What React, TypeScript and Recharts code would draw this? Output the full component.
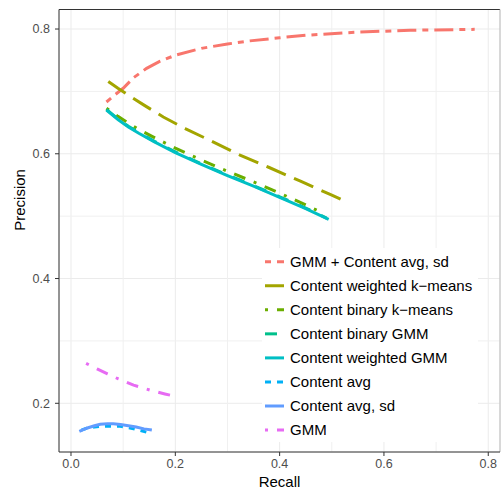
import React from "react";
import {
  LineChart,
  Line,
  XAxis,
  YAxis,
  CartesianGrid,
  ReferenceLine,
} from "recharts";

// ---- data (recall / precision) ----
const gmmContentRecall = [0.068, 0.085, 0.1, 0.12, 0.145, 0.17, 0.2, 0.25, 0.3, 0.343, 0.4, 0.45, 0.547, 0.65, 0.774];
const gmmContentPrecision = [0.683, 0.695, 0.705, 0.722, 0.737, 0.748, 0.758, 0.769, 0.776, 0.781, 0.786, 0.79, 0.795, 0.798, 0.7995];

const weightedKmRecall = [0.0715, 0.09, 0.11, 0.14, 0.177, 0.22, 0.27, 0.324, 0.38, 0.44, 0.499, 0.52];
const weightedKmPrecision = [0.716, 0.705, 0.694, 0.678, 0.659, 0.64, 0.62, 0.598, 0.578, 0.556, 0.534, 0.526];

const binaryKmRecall = [0.068, 0.09, 0.11, 0.13, 0.16, 0.2, 0.25, 0.3, 0.35, 0.4, 0.45, 0.483];
const binaryKmPrecision = [0.673, 0.66, 0.649, 0.639, 0.626, 0.609, 0.59, 0.572, 0.555, 0.537, 0.518, 0.505];

const binaryGmmRecall = [0.068, 0.09, 0.11, 0.13, 0.16, 0.2, 0.25, 0.3, 0.35, 0.4, 0.45, 0.49];
const binaryGmmPrecision = [0.671, 0.656, 0.644, 0.634, 0.62, 0.603, 0.584, 0.566, 0.549, 0.531, 0.513, 0.497];

const weightedGmmRecall = [0.068, 0.09, 0.11, 0.13, 0.16, 0.2, 0.25, 0.3, 0.35, 0.4, 0.45, 0.494];
const weightedGmmPrecision = [0.67, 0.655, 0.643, 0.633, 0.619, 0.602, 0.583, 0.565, 0.548, 0.53, 0.512, 0.495];

const contentAvgRecall = [0.02, 0.03, 0.045, 0.056, 0.075, 0.094, 0.11, 0.13, 0.148];
const contentAvgPrecision = [0.157, 0.16, 0.162, 0.163, 0.163, 0.163, 0.161, 0.157, 0.153];

const contentAvgSdRecall = [0.016, 0.03, 0.045, 0.056, 0.07, 0.081, 0.095, 0.11, 0.125, 0.14, 0.155];
const contentAvgSdPrecision = [0.155, 0.16, 0.164, 0.1665, 0.167, 0.167, 0.166, 0.164, 0.162, 0.159, 0.157];

const gmmRecall = [0.029, 0.05, 0.07, 0.091, 0.12, 0.156, 0.18, 0.201];
const gmmPrecision = [0.264, 0.255, 0.247, 0.239, 0.229, 0.22, 0.215, 0.211];

const seriesNames = [
  "GMM + Content avg, sd",
  "Content weighted k\u2212means",
  "Content binary k\u2212means",
  "Content binary GMM",
  "Content weighted GMM",
  "Content avg",
  "Content avg, sd",
  "GMM",
];
const seriesColors = ["#F8766D", "#A3A500", "#6BAE00", "#00C08B", "#00BFC4", "#00B0F6", "#619CFF", "#E76BF3"];
const seriesDashes = ["6 6 19 6", "21 9", "3 9 12 9", "12 12", undefined, "6 6", undefined, "3 9 12 9"];

const xMajorTicks = [0, 0.2, 0.4, 0.6, 0.8];
const yMajorTicks = [0.2, 0.4, 0.6, 0.8];
const xMinorTicks = [0.1, 0.3, 0.5, 0.7];
const yMinorTicks = [0.3, 0.5, 0.7];

const X_DOMAIN: [number, number] = [-0.023, 0.8225];
const Y_DOMAIN: [number, number] = [0.1219, 0.8313];

const zip = (xs: number[], ys: number[]) => xs.map((x, i) => ({ x, y: ys[i] }));

const seriesData = [
  zip(gmmContentRecall, gmmContentPrecision),
  zip(weightedKmRecall, weightedKmPrecision),
  zip(binaryKmRecall, binaryKmPrecision),
  zip(binaryGmmRecall, binaryGmmPrecision),
  zip(weightedGmmRecall, weightedGmmPrecision),
  zip(contentAvgRecall, contentAvgPrecision),
  zip(contentAvgSdRecall, contentAvgSdPrecision),
  zip(gmmRecall, gmmPrecision),
];

const FONT = "'Liberation Sans', Arial, Helvetica, sans-serif";

// legend drawn as an overlay inside the panel (like ggplot legend.position = c(x, y))
function LegendBox() {
  return (
    <svg
      width={216}
      height={194}
      style={{ position: "absolute", left: 262, top: 248, display: "block", background: "#ffffff" }}
    >
      {seriesNames.map((name, i) => {
        const cy = 13.7 + i * 24.05;
        return (
          <g key={name}>
            <line
              x1={3}
              x2={22}
              y1={cy}
              y2={cy}
              stroke={seriesColors[i]}
              strokeWidth={3}
              strokeDasharray={seriesDashes[i]}
            />
            <text x={28} y={cy + 5.3} fontSize={15} fontFamily={FONT} fill="#000000">
              {name}
            </text>
          </g>
        );
      })}
    </svg>
  );
}

export default function App() {
  return (
    <div style={{ position: "absolute", left: 0, top: 0, width: 502, height: 488, background: "#ffffff" }}>
      <LineChart width={502} height={488} margin={{ top: 9.5, right: 2, bottom: 0, left: 0 }}>
        <CartesianGrid stroke="#EBEBEB" strokeWidth={1} />
        {xMinorTicks.map((v) => (
          <ReferenceLine key={"xm" + v} x={v} stroke="#F0F0F0" strokeWidth={1} />
        ))}
        {yMinorTicks.map((v) => (
          <ReferenceLine key={"ym" + v} y={v} stroke="#F0F0F0" strokeWidth={1} />
        ))}
        <XAxis
          type="number"
          dataKey="x"
          domain={X_DOMAIN}
          ticks={xMajorTicks}
          allowDataOverflow
          height={36}
          tickSize={4}
          tickMargin={3}
          tickFormatter={(v: number) => v.toFixed(1)}
          tick={{ fontSize: 12.5, fill: "#4D4D4D", fontFamily: FONT }}
          axisLine={{ stroke: "#333333" }}
          tickLine={{ stroke: "#333333" }}
          label={{ value: "Recall", position: "insideBottom", offset: 1.5, fontSize: 15, fill: "#000000", fontFamily: FONT }}
        />
        <YAxis
          type="number"
          domain={Y_DOMAIN}
          ticks={yMajorTicks}
          allowDataOverflow
          width={59}
          tickSize={4}
          tickMargin={5}
          tickFormatter={(v: number) => v.toFixed(1)}
          tick={{ fontSize: 12.5, fill: "#4D4D4D", fontFamily: FONT }}
          axisLine={{ stroke: "#333333" }}
          tickLine={{ stroke: "#333333" }}
          label={{ value: "Precision", angle: -90, position: "insideLeft", offset: 20, fontSize: 15, fill: "#000000", fontFamily: FONT }}
        />
        <ReferenceLine y={Y_DOMAIN[1]} stroke="#333333" strokeWidth={1} />
        <ReferenceLine x={X_DOMAIN[1]} stroke="#BBBBBB" strokeWidth={1} />
        {seriesData.map((d, i) => (
          <Line
            key={seriesNames[i]}
            data={d}
            dataKey="y"
            name={seriesNames[i]}
            type="linear"
            stroke={seriesColors[i]}
            strokeWidth={3}
            strokeDasharray={seriesDashes[i]}
            dot={false}
            activeDot={false}
            isAnimationActive={false}
          />
        ))}
      </LineChart>
      <LegendBox />
    </div>
  );
}
